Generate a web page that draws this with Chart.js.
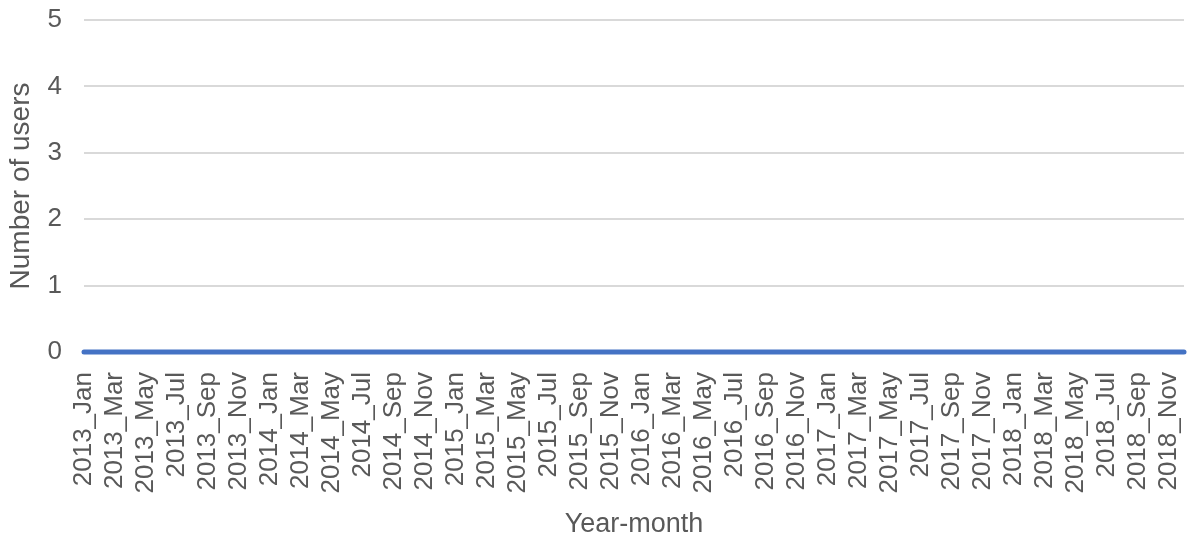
<!DOCTYPE html>
<html>
<head>
<meta charset="utf-8">
<script src="https://cdn.jsdelivr.net/npm/chart.js@4/dist/chart.umd.min.js"></script>
<style>
  html, body { margin: 0; padding: 0; background: #fff; }
  #wrap { width: 1188px; height: 541px; }
</style>
</head>
<body>
<div id="wrap"><canvas id="myChart" width="1188" height="541"></canvas></div>
<script>
// months 2013 Jan .. 2018 Dec
const years = ['2013', '2014', '2015', '2016', '2017', '2018']
const months = ['Jan', 'Feb', 'Mar', 'Apr', 'May', 'Jun', 'Jul', 'Aug', 'Sep', 'Oct', 'Nov', 'Dec']
const labels = []
years.forEach(y => months.forEach(m => labels.push(y + '_' + m)))

// number of users per month (all zero in the picture)
const users = [
  0, 0, 0, 0, 0, 0, 0, 0, 0, 0, 0, 0,
  0, 0, 0, 0, 0, 0, 0, 0, 0, 0, 0, 0,
  0, 0, 0, 0, 0, 0, 0, 0, 0, 0, 0, 0,
  0, 0, 0, 0, 0, 0, 0, 0, 0, 0, 0, 0,
  0, 0, 0, 0, 0, 0, 0, 0, 0, 0, 0, 0,
  0, 0, 0, 0, 0, 0, 0, 0, 0, 0, 0, 0
]
const yTicks = [0, 1, 2, 3, 4, 5]

const grey = '#595959'
const fontFam = '"Liberation Sans", Arial, sans-serif'

var ctx = document.getElementById('myChart').getContext('2d');
const myChart = new Chart(ctx, {
  type: 'line',
  data: {
    labels: labels,
    datasets: [{
      label: 'users',
      data: users,
      borderColor: '#4472C4',
      backgroundColor: '#4472C4',
      borderWidth: 5,
      borderCapStyle: 'round',
      pointRadius: 0,
      tension: 0,
      clip: false
    }]
  },
  options: {
    responsive: false,
    animation: false,
    layout: { padding: { top: 20, right: 4, bottom: 0, left: 0 } },
    plugins: {
      legend: { display: false },
      tooltip: { enabled: false }
    },
    scales: {
      x: {
        offset: false,
        grid: { display: false },
        border: { display: false },
        ticks: {
          autoSkip: false,
          minRotation: 90,
          maxRotation: 90,
          padding: 12,
          color: grey,
          font: { family: fontFam, size: 26 },
          callback: function (val, i) { return i % 2 === 0 ? labels[i] : '' }
        },
        title: {
          display: true,
          text: 'Year-month',
          color: grey,
          font: { family: fontFam, size: 27 },
          padding: { top: 4, bottom: 0 }
        },
        afterFit: function (scale) {
          scale.height = 189
          scale.paddingLeft = 0
          scale.paddingRight = 0
        }
      },
      y: {
        min: 0,
        max: 5,
        afterBuildTicks: function (scale) { scale.ticks = yTicks.map(v => ({ value: v })) },
        grid: { color: '#d9d9d9', lineWidth: 2, drawTicks: false },
        border: { display: false },
        ticks: {
          padding: 22,
          color: grey,
          font: { family: fontFam, size: 26 }
        },
        title: {
          display: true,
          text: 'Number of users',
          color: grey,
          font: { family: fontFam, size: 28 },
          padding: { top: 4, bottom: 2 }
        },
        afterFit: function (scale) {
          scale.width = 84
          scale.paddingTop = 0
          scale.paddingBottom = 0
        }
      }
    }
  }
})
</script>
</body>
</html>
